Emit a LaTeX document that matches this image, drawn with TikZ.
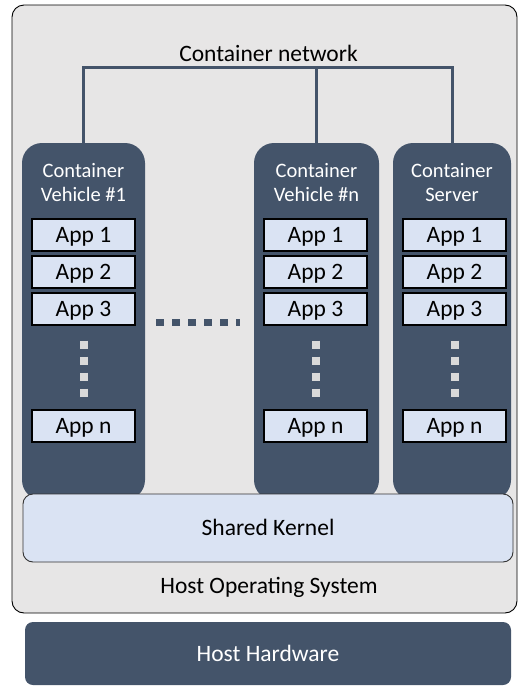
\documentclass[tikz,border=0pt]{standalone}
\usepackage{fontspec}
\setmainfont{Carlito}
\definecolor{slate}{HTML}{44546A}
\definecolor{paleblue}{HTML}{DAE3F3}
\definecolor{osgray}{HTML}{E7E6E6}
\definecolor{dotgray}{HTML}{D9D9D9}

\begin{document}
\begin{tikzpicture}[x = 1pt, y = -1pt,
        txt/.style = {font = \fontsize{23.5}{28}\selectfont},
        column/.style = {fill = slate, rounded corners = 20pt, minimum width = #1, minimum height = 357pt, inner sep = 0pt},
        title/.style = {text = white, align = center, anchor = base, font = \fontsize{20.5}{24}\selectfont},
        app/.style = {txt, draw = black, line width = 1.1pt, fill = paleblue, minimum width = 103pt, minimum height = 32pt,
                      inner sep = 0pt, text height = 15pt, text depth = 0pt},
        net/.style = {draw = slate, line width = 3pt}]
            \useasboundingbox (0, 0) rectangle (518, 686);

            % host operating system
            \draw[fill = osgray, rounded corners = 12pt, line width = 0.9pt] (12, 5) rectangle (517, 613);
            \node[txt, anchor = base] (os) at (269, 593) {Host Operating System};

            % containers
            \node[column = 123pt] (colA) at (83.5, 321.5) {};
            \node[column = 125pt] (colB) at (316.5, 321.5) {};
            \node[column = 118pt] (colC) at (452, 321.5) {};

            \node[title] (tA) at (83.5, 201) {Container\\Vehicle \#1};
            \node[title] (tB) at (316.5, 201) {Container\\Vehicle \#n};
            \node[title] (tC) at (452, 201) {Container\\Server};

            % network
            \node[txt, anchor = base] (netlbl) at (268.5, 61) {Container network};
            \draw[net] (colA.north) |- (83.5, 67) -| (colC.north);
            \draw[net] (colB.north) -- (colB.north |- 0, 67);

            % apps
            \node[app] (a1) at (83.5, 235) {App 1};
            \node[app] (a2) at (83.5, 272) {App 2};
            \node[app] (a3) at (83.5, 309) {App 3};
            \node[app] (an) at (83.5, 426) {App n};

            \node[app] (b1) at (315.5, 235) {App 1};
            \node[app] (b2) at (315.5, 272) {App 2};
            \node[app] (b3) at (315.5, 309) {App 3};
            \node[app] (bn) at (315.5, 426) {App n};

            \node[app] (c1) at (454.5, 235) {App 1};
            \node[app] (c2) at (454.5, 272) {App 2};
            \node[app] (c3) at (454.5, 309) {App 3};
            \node[app] (cn) at (454.5, 426) {App n};

            % dots
            \draw[dotgray, line width = 8pt, dash pattern = on 8pt off 8pt] (a3.south) ++(0, 15) -- ++(0, 56);
            \draw[dotgray, line width = 8pt, dash pattern = on 8pt off 8pt] (b3.south) ++(0, 15) -- ++(0, 56);
            \draw[dotgray, line width = 8pt, dash pattern = on 8pt off 8pt] (c3.south) ++(0, 15) -- ++(0, 56);
            \draw[slate, line width = 7pt, dash pattern = on 8pt off 8pt] (156, 322) -- (240, 322);

            % kernel and hardware
            \node[txt, draw = black!80, line width = 0.9pt, fill = paleblue, rounded corners = 10pt, minimum width = 490pt,
                  minimum height = 68pt, text height = 15pt, text depth = 0pt] (kernel) at (268, 528) {Shared Kernel};
            \node[txt, text = white, fill = slate, rounded corners = 8pt, minimum width = 486pt, minimum height = 63pt,
                  text height = 15pt, text depth = 0pt] (hw) at (268, 653.5) {Host Hardware};

        \end{tikzpicture}
\end{document}
